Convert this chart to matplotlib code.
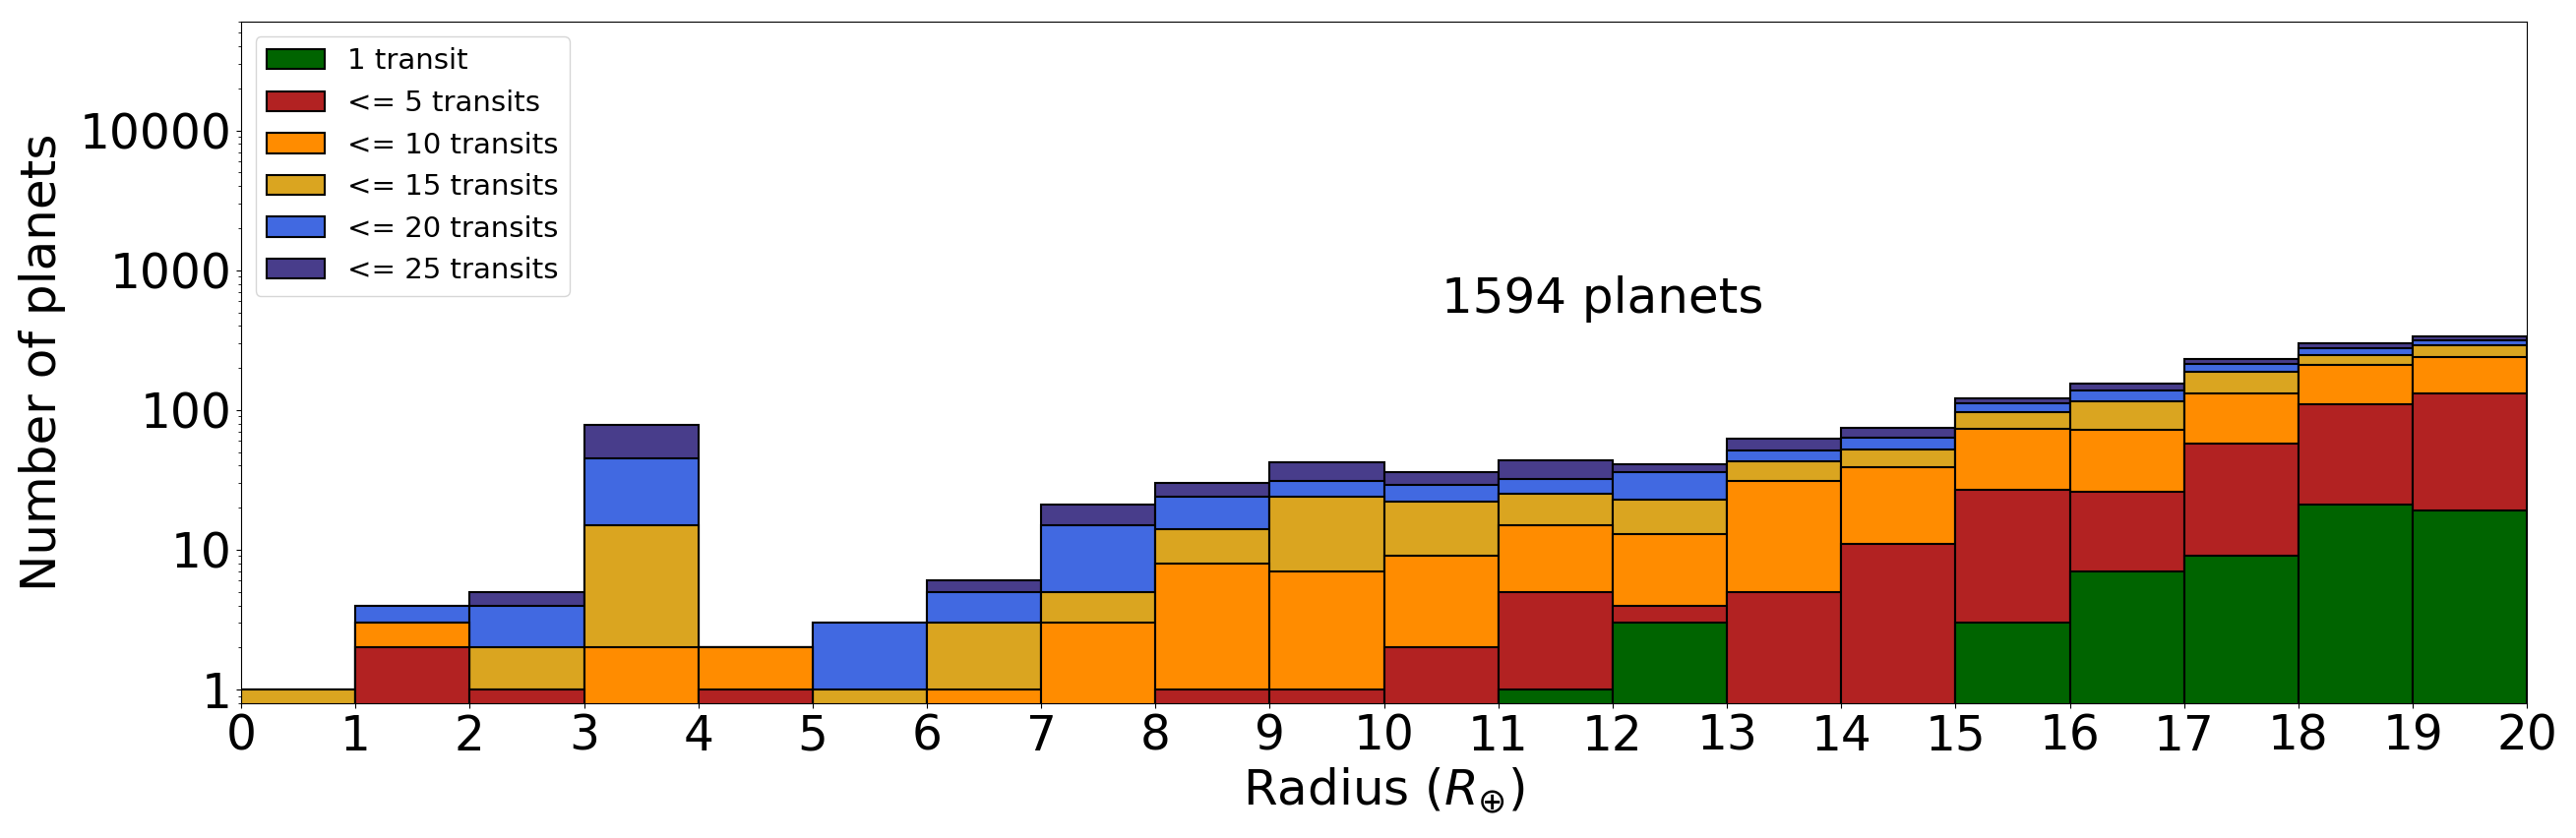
import numpy as np
import matplotlib
matplotlib.use('Agg')
import matplotlib.pyplot as plt

# Bin edges in Earth radii (1 R_earth wide bins)
bin_edges = np.arange(0, 21, 1)

# Cumulative counts per bin
n_1 = [0, 0, 0, 0, 0, 0, 0, 0, 0, 0, 0, 1, 3, 0, 0, 3, 7, 9, 21, 19]
n_le5 = [0, 2, 1, 0, 1, 0, 0, 0, 1, 1, 2, 5, 4, 5, 11, 27, 26, 58, 110, 132]
n_le10 = [0, 3, 1, 2, 2, 0, 1, 3, 8, 7, 9, 15, 13, 31, 39, 73, 72, 132, 212, 239]
n_le15 = [1, 3, 2, 15, 2, 1, 3, 5, 14, 24, 22, 25, 23, 43, 52, 97, 115, 189, 249, 292]
n_le20 = [1, 4, 4, 45, 2, 3, 5, 15, 24, 31, 29, 32, 36, 51, 63, 111, 138, 214, 278, 316]
n_le25 = [1, 4, 5, 78, 2, 3, 6, 21, 30, 42, 36, 44, 41, 62, 75, 122, 155, 232, 299, 336]

labels = ['1 transit', '<= 5 transits', '<= 10 transits',
          '<= 15 transits', '<= 20 transits', '<= 25 transits']
colors = ['darkgreen', 'firebrick', 'darkorange',
          'goldenrod', 'royalblue', 'darkslateblue']
series = [n_1, n_le5, n_le10, n_le15, n_le20, n_le25]

fig = plt.figure(figsize=(26.18, 8.52), dpi=100)
ax = fig.add_axes([0.0936, 0.161, 0.8874, 0.813])

left = bin_edges[:-1]
width = np.diff(bin_edges)

handles = []
# draw widest group first so the smaller ones sit in front
for counts, lab, col in reversed(list(zip(series, labels, colors))):
    counts = np.array(counts, dtype=float)
    m = counts > 0
    b = ax.bar(left[m], counts[m], width=width[m], align='edge', color=col,
               edgecolor='black', linewidth=1.5, label=lab)
    handles.append(b)

ax.set_yscale('log')
ax.set_xlim(0, 20)
ax.set_ylim(0.8, 6e4)
ax.set_xticks(np.arange(0, 21, 1))
ax.set_yticks([1, 10, 100, 1000, 10000])
ax.set_yticklabels(['1', '10', '100', '1000', '10000'])
ax.tick_params(axis='both', labelsize=35)

ax.set_xlabel(r'Radius ($R_{\oplus}$)', fontsize=36)
ax.set_ylabel('Number of planets', fontsize=36, labelpad=10)

ax.text(10.5, 500, '1594 planets', fontsize=36)

ax.legend(handles[::-1], labels, loc='upper left', fontsize=21)

fig.savefig('out.png', dpi=100)
